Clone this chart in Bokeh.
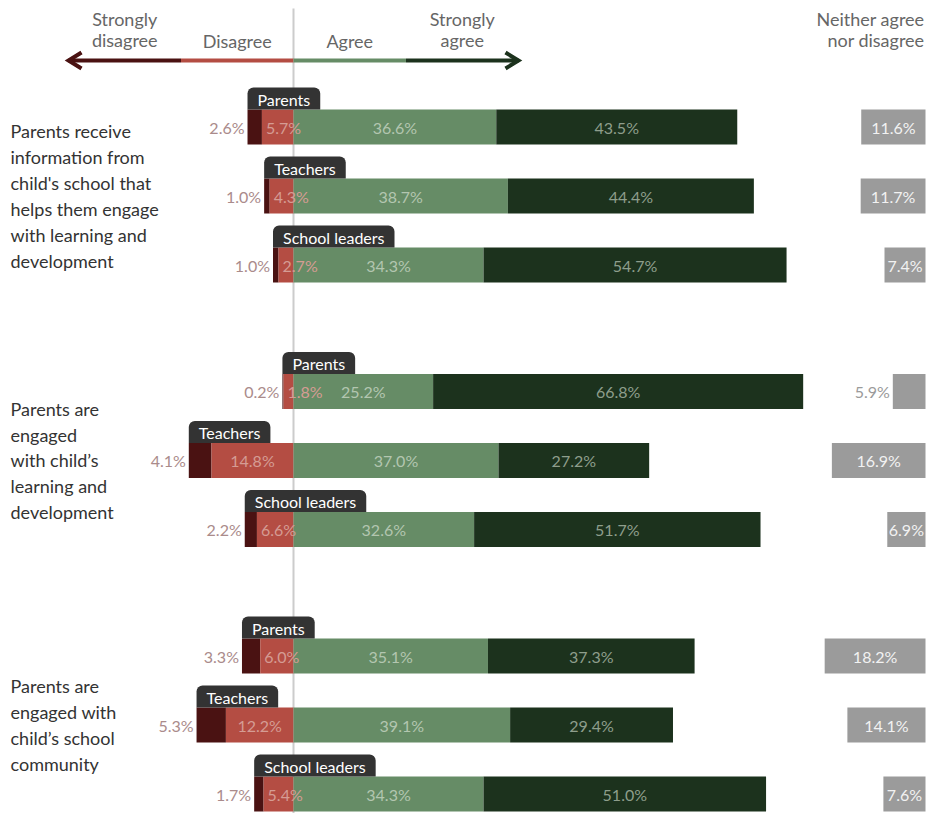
from bokeh.plotting import figure
from bokeh.models import Range1d
from bokeh.embed import file_html
from bokeh.resources import INLINE
from bokeh.core.properties import value

# ---------------- data ----------------
questions = [
    "Parents receive\ninformation from\nchild's school that\nhelps them engage\nwith learning and\ndevelopment",
    "Parents are\nengaged\nwith child\u2019s\nlearning and\ndevelopment",
    "Parents are\nengaged with\nchild\u2019s school\ncommunity",
]
respondents = ["Parents", "Teachers", "School leaders"]
strongly_disagree = [2.6, 1.0, 1.0, 0.2, 4.1, 2.2, 3.3, 5.3, 1.7]
disagree = [5.7, 4.3, 2.7, 1.8, 14.8, 6.6, 6.0, 12.2, 5.4]
agree = [36.6, 38.7, 34.3, 25.2, 37.0, 32.6, 35.1, 39.1, 34.3]
strongly_agree = [43.5, 44.4, 54.7, 66.8, 27.2, 51.7, 37.3, 29.4, 51.0]
neutral = [11.6, 11.7, 7.4, 5.9, 16.9, 6.9, 18.2, 14.1, 7.6]
scale_labels = ["Strongly\ndisagree", "Disagree", "Agree", "Strongly\nagree"]
neutral_label = "Neither agree\nnor disagree"

# ---------------- styling ----------------
C_SD = "#4a1212"
C_D = "#b44d43"
C_A = "#668c66"
C_SA = "#1c321d"
C_N = "#9b9b9b"
C_TAG = "#333333"
FONT = "Lato"

W, H = 928, 813
X0 = 293.0          # pixel of zero
S = 5.54            # pixels per percent
NEUTRAL_RIGHT = (925 - X0) / S
BAR_H = 35

p = figure(width=W, height=H, output_backend="svg", toolbar_location=None,
           x_range=Range1d(-X0 / S, (W - X0) / S), y_range=Range1d(H, 0),
           x_axis_location=None, y_axis_location=None, min_border=0,
           outline_line_color=None, background_fill_color="white")
p.grid.visible = False

def px(d):
    return d / S

# row centers (screen pixels)
ys = []
for g in range(len(questions)):
    for i in range(len(respondents)):
        ys.append(126.5 + g * 264.5 + i * 69)

# zero line
p.segment(x0=[0], y0=[8], x1=[0], y1=[H], line_color="#cccccc", line_width=2)

# ---------------- header ----------------
seg_len = px(112.5)
hx = [-2 * seg_len, -seg_len, 0, seg_len]
hcols = [C_SD, C_D, C_A, C_SA]
hy = 60
p.segment(x0=hx, y0=[hy] * 4, x1=[x + seg_len for x in hx], y1=[hy] * 4,
          line_color=hcols, line_width=4)
tipL, tipR = -2 * seg_len, 2 * seg_len
p.multi_line(xs=[[tipL + px(13), tipL, tipL + px(13)], [tipR - px(13), tipR, tipR - px(13)]],
             ys=[[hy - 8, hy, hy + 8], [hy - 8, hy, hy + 8]],
             line_color=[C_SD, C_SA], line_width=4, line_join="miter")
p.text(x=[x + seg_len / 2 for x in hx], y=[51] * 4, text=scale_labels,
       text_align="center", text_baseline="bottom", text_font=value(FONT),
       text_font_size="18px", text_color="#666666", text_line_height=0.97)
p.text(x=[px(924 - X0)], y=[51], text=[neutral_label], text_align="right",
       text_baseline="bottom", text_font=value(FONT), text_font_size="18px",
       text_color="#666666", text_line_height=0.97)

# ---------------- bars ----------------
sd_left = [-(a + b) for a, b in zip(strongly_disagree, disagree)]
d_left = [-b for b in disagree]
a_right = agree
sa_right = [a + b for a, b in zip(agree, strongly_agree)]
n_left = [NEUTRAL_RIGHT - n for n in neutral]

p.hbar(y=ys, left=sd_left, right=d_left, height=BAR_H, fill_color=C_SD, line_color=None)
p.hbar(y=ys, left=d_left, right=[0] * 9, height=BAR_H, fill_color=C_D, line_color=None)
p.hbar(y=ys, left=[0] * 9, right=a_right, height=BAR_H, fill_color=C_A, line_color=None)
p.hbar(y=ys, left=a_right, right=sa_right, height=BAR_H, fill_color=C_SA, line_color=None)
p.hbar(y=ys, left=n_left, right=[NEUTRAL_RIGHT] * 9, height=BAR_H, fill_color=C_N, line_color=None)

def fmt(v):
    return f"{v:.1f}%"

lab_kw = dict(text_font=value(FONT), text_font_size="16px", text_baseline="middle")

# strongly disagree labels (outside left)
p.text(x=[l - px(3) for l in sd_left], y=ys, text=[fmt(v) for v in strongly_disagree],
       text_align="right", text_color="#aa8b8b", **lab_kw)

# disagree labels
dc_x, dc_t, dl_x, dl_y, dl_t, dc_y = [], [], [], [], [], []
for v, y in zip(disagree, ys):
    tw = 8.7 * len(fmt(v))
    if v * S >= tw + 8:
        dc_x.append(-v / 2); dc_y.append(y); dc_t.append(fmt(v))
    else:
        dl_x.append(-v + px(4)); dl_y.append(y); dl_t.append(fmt(v))
p.text(x=dc_x, y=dc_y, text=dc_t, text_align="center", text_color="#d59c94", **lab_kw)
p.text(x=dl_x, y=dl_y, text=dl_t, text_align="left", text_color="#d59c94", **lab_kw)

# agree labels
p.text(x=[a / 2 for a in agree], y=ys, text=[fmt(v) for v in agree],
       text_align="center", text_color="#b3c6b0", **lab_kw)
# strongly agree labels
p.text(x=[a + s / 2 for a, s in zip(agree, strongly_agree)], y=ys,
       text=[fmt(v) for v in strongly_agree], text_align="center",
       text_color="#8e9e8c", **lab_kw)

# neutral labels
ni_x, ni_y, ni_t, no_x, no_y, no_t = [], [], [], [], [], []
for v, y, l in zip(neutral, ys, n_left):
    tw = 8.7 * len(fmt(v))
    if v * S >= tw + 2:
        ni_x.append(l + v / 2); ni_y.append(y); ni_t.append(fmt(v))
    else:
        no_x.append(l - px(3)); no_y.append(y); no_t.append(fmt(v))
p.text(x=ni_x, y=ni_y, text=ni_t, text_align="center", text_color="#f2f2f2", **lab_kw)
p.text(x=no_x, y=no_y, text=no_t, text_align="right", text_color="#9a9a9a", **lab_kw)

# respondent tags
tag_names = respondents * len(questions)
p.text(x=sd_left, y=[y - BAR_H / 2 for y in ys], text=tag_names,
       anchor="bottom_left", text_align="left", text_baseline="bottom",
       text_font=value(FONT), text_font_size="16px", text_color="white",
       background_fill_color=C_TAG,
       padding=dict(left=10, right=10, top=2, bottom=1),
       border_radius=dict(top_left=6, top_right=6, bottom_right=0, bottom_left=0))

# question labels
p.text(x=[px(10 - X0)] * 3, y=[ys[g * 3 + 1] for g in range(3)], text=questions,
       text_align="left", text_baseline="middle", text_font=value(FONT),
       text_font_size="18px", text_color="#333333", text_line_height=1.18)

open("out.html", "w").write(file_html(p, INLINE))
